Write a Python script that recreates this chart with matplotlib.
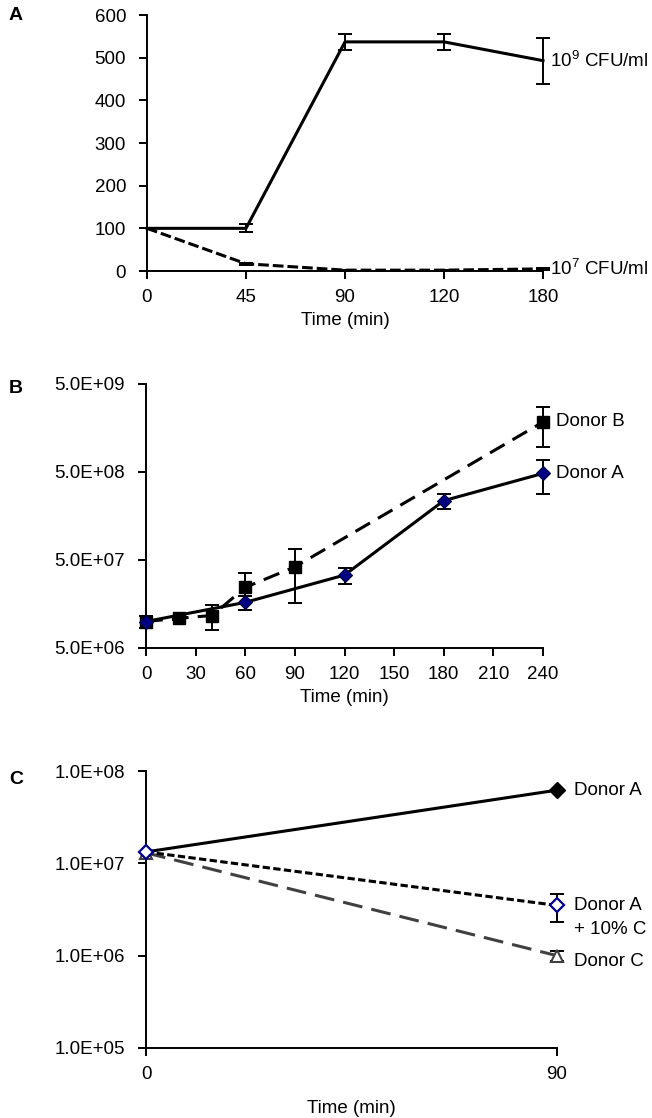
import matplotlib
matplotlib.use("Agg")
import matplotlib.pyplot as plt
import numpy as np
from matplotlib.ticker import FuncFormatter, FixedLocator, NullLocator

plt.rcParams["font.family"] = ["Liberation Sans", "DejaVu Sans"]
plt.rcParams["mathtext.fontset"] = "custom"
plt.rcParams["mathtext.rm"] = "Liberation Sans"
plt.rcParams["font.size"] = 13.5
plt.rcParams["axes.linewidth"] = 1.4

# A - relative values, two inocula
time_a = ["0", "45", "90", "120", "180"]
high_a = [100, 100, 537, 537, 493]
high_err_a = [0, 9, 19, 19, 54]
low_a = [100, 17, 2, 2, 5]
low_err_a = [0, 2, 1, 1, 2]

# B - CFU/ml over time
time_b_donor_a = [0, 60, 120, 180, 240]
donor_a_b = [1.0e7, 1.65e7, 3.37e7, 2.36e8, 4.82e8]
donor_a_b_err = [1.5e6, 3.0e6, 7.3e6, 4.5e7, 2.0e8]
time_b_donor_b = [0, 20, 40, 60, 90, 240]
donor_b_b = [1.0e7, 1.09e7, 1.17e7, 2.44e7, 4.18e7, 1.85e9]
donor_b_b_err = [1.5e6, 6e5, 3.7e6, 1.1e7, 2.55e7, 9.0e8]

# C - 0 and 90 min
time_c = [0, 90]
donor_a_c = [1.33e7, 6.2e7]
mix_c = [1.33e7, 3.5e6]
mix_c_err = [0, 1.2e6]
donor_c_c = [1.3e7, 1.0e6]
donor_c_c_err = [0, 1.2e5]

W, H = 652, 1118
fig = plt.figure(figsize=(W / 100, H / 100), dpi=100)


def box(l, r, t, b):
    return [l / W, 1 - b / H, (r - l) / W, (b - t) / H]


def style(ax):
    for s in ["top", "right"]:
        ax.spines[s].set_visible(False)
    ax.tick_params(direction="out", length=6, width=1.4, pad=7)
    ax.tick_params(axis="y", pad=9)
    ax.xaxis.set_minor_locator(NullLocator())
    ax.yaxis.set_minor_locator(NullLocator())


sci = FuncFormatter(lambda v, p: f"{v:.1E}")
eb = dict(fmt="none", ecolor="k", elinewidth=1.4, capsize=5, capthick=1.4, clip_on=False, zorder=3)
lab = dict(textcoords="offset points", va="center", ha="left", annotation_clip=False)

# ---- A ----
axa = fig.add_axes(box(147, 543, 15, 271))
xa = np.arange(len(time_a))
axa.plot(xa, high_a, color="k", lw=2.2, clip_on=False, zorder=2)
axa.errorbar(xa, high_a, yerr=high_err_a, **eb)
axa.plot(xa, low_a, color="k", lw=2.2, ls=(0, (3.5, 1.3)), clip_on=False, zorder=2)
axa.errorbar(xa, low_a, yerr=low_err_a, **eb)
axa.set_xlim(0, 4)
axa.set_ylim(0, 600)
axa.set_xticks(xa)
axa.set_xticklabels(time_a)
axa.set_yticks(range(0, 601, 100))
style(axa)
axa.set_xlabel("Time (min)", labelpad=4)
axa.annotate("10$^{\\mathregular{9}}$ CFU/ml", (4, high_a[-1]), xytext=(5, 0), **lab)
axa.annotate("10$^{\\mathregular{7}}$ CFU/ml", (4, low_a[-1]), xytext=(5, 0), **lab)
fig.text(9 / W, 1 - 16 / H, "A", fontsize=14, fontweight="bold", va="center")

# ---- B ----
axb = fig.add_axes(box(146, 543, 384, 648))
axb.set_yscale("log")
axb.plot(time_b_donor_b, donor_b_b, color="k", lw=2.2, ls=(0, (5.5, 3)), clip_on=False, zorder=2)
axb.errorbar(time_b_donor_b, donor_b_b, yerr=donor_b_b_err, **eb)
axb.plot(time_b_donor_b, donor_b_b, ls="none", marker="s", ms=9, mfc="k", mec="k", clip_on=False, zorder=4)
axb.plot(time_b_donor_a, donor_a_b, color="k", lw=2.2, clip_on=False, zorder=2)
axb.errorbar(time_b_donor_a, donor_a_b, yerr=donor_a_b_err, **eb)
axb.plot(time_b_donor_a, donor_a_b, ls="none", marker="D", ms=7, mfc="#000080", mec="#000040",
         mew=0.8, clip_on=False, zorder=5)
axb.set_xlim(0, 240)
axb.set_ylim(5e6, 5e9)
axb.xaxis.set_major_locator(FixedLocator(range(0, 241, 30)))
axb.yaxis.set_major_locator(FixedLocator([5e6, 5e7, 5e8, 5e9]))
axb.yaxis.set_major_formatter(sci)
style(axb)
axb.set_xlabel("Time (min)", labelpad=4)
axb.annotate("Donor B", (240, donor_b_b[-1]), xytext=(9, 0), **lab)
axb.annotate("Donor A", (240, donor_a_b[-1]), xytext=(9, 0), **lab)
fig.text(9 / W, 1 - 388 / H, "B", fontsize=14, fontweight="bold", va="center")

# ---- C ----
axc = fig.add_axes(box(146, 557, 771, 1048))
axc.set_yscale("log")
axc.plot(time_c, donor_c_c, color="#404040", lw=2.2, ls=(0, (6.5, 3)), clip_on=False, zorder=2)
axc.errorbar(time_c, donor_c_c, yerr=donor_c_c_err, **eb)
axc.plot(time_c, donor_c_c, ls="none", marker="^", ms=8, mfc="white", mec="#404040", mew=1.5,
         clip_on=False, zorder=4)
axc.plot(time_c, mix_c, color="k", lw=2.2, ls=(0, (2.4, 1.1)), clip_on=False, zorder=2)
axc.errorbar(time_c, mix_c, yerr=mix_c_err, **eb)
axc.plot(time_c, mix_c, ls="none", marker="D", ms=7, mfc="white", mec="#00008B", mew=1.6,
         clip_on=False, zorder=5)
axc.plot(time_c, donor_a_c, color="k", lw=2.2, clip_on=False, zorder=2)
axc.plot(time_c[1:], donor_a_c[1:], ls="none", marker="D", ms=8, mfc="k", mec="k",
         clip_on=False, zorder=5)
axc.set_xlim(0, 90)
axc.set_ylim(1e5, 1e8)
axc.xaxis.set_major_locator(FixedLocator([0, 90]))
axc.yaxis.set_major_locator(FixedLocator([1e5, 1e6, 1e7, 1e8]))
axc.yaxis.set_major_formatter(sci)
style(axc)
axc.set_xlabel("Time (min)", labelpad=12)
axc.annotate("Donor A", (90, donor_a_c[-1]), xytext=(12, 0), **lab)
axc.annotate("Donor A", (90, mix_c[-1]), xytext=(12, 0), **lab)
axc.annotate("+ 10% C", (90, mix_c[-1]), xytext=(12, -17), **lab)
axc.annotate("Donor C", (90, donor_c_c[-1]), xytext=(12, -4), **lab)
fig.text(9 / W, 1 - 779 / H, "C", fontsize=14, fontweight="bold", va="center")

fig.savefig("out.png", dpi=100)
